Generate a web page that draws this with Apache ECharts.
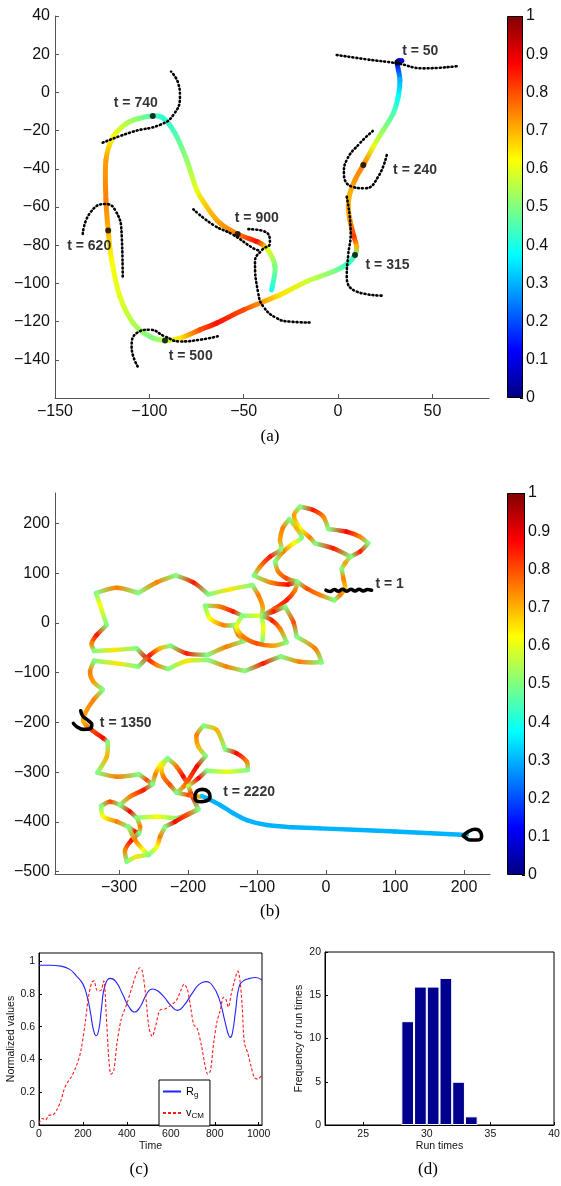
<!DOCTYPE html>
<html>
<head>
<meta charset="utf-8">
<script src="https://cdn.jsdelivr.net/npm/echarts@6/dist/echarts.min.js"></script>
<style>
  html, body { margin: 0; padding: 0; background: #fff; }
  #chart { width: 561px; height: 1186px; }
</style>
</head>
<body>
<div id="chart"></div>
<script>
// ---- panel (a): trajectory [x, y, colour value]
var trajA = [
  [33.8,16.6,0.08],[31.4,15.6,0.12],[32.8,6.5,0.3],[31.9,-2.2,0.38],[29.3,-10.9,0.45],[24.0,-19.7,0.52],
  [18.7,-28.4,0.6],[13.4,-38.0,0.75],[9.0,-45.8,0.73],[6.3,-52.8,0.7],[5.4,-59.8,0.7],[6.3,-66.8,0.72],
  [8.4,-75.5,0.82],[9.9,-80.7,0.7],[9.0,-85.1,0.45],[5.4,-89.4,0.42],[-2.5,-93.8,0.5],[-16.6,-99.0,0.58],
  [-30.8,-106.0,0.65],[-50.2,-113.9,0.8],[-64.3,-120.8,0.86],[-73.2,-124.3,0.8],[-83.8,-128.7,0.65],
  [-91.7,-129.9,0.55],[-99.7,-127.8,0.5],[-108.5,-120.8,0.55],[-115.6,-106.9,0.6],[-120.0,-87.7,0.62],
  [-121.8,-72.3,0.7],[-123.0,-56.3,0.75],[-123.0,-35.4,0.72],[-119.1,-23.2,0.62],[-112.0,-16.2,0.55],
  [-105.0,-13.5,0.5],[-98.2,-12.3,0.45],[-92.6,-13.5,0.42],[-86.4,-21.4,0.45],[-80.2,-35.4,0.52],
  [-74.9,-51.1,0.6],[-69.6,-59.8,0.68],[-62.6,-68.5,0.72],[-53.2,-74.2,0.75],[-43.1,-78.1,0.86],
  [-37.8,-81.6,0.6],[-33.4,-91.2,0.5],[-35.2,-103.4,0.4]
];
var dotsA = [[31.4,15.6],[13.4,-38.0],[9.0,-85.1],[-91.7,-129.9],[-121.8,-72.3],[-98.2,-12.3],[-53.2,-74.2]];
var labelsA = [[33.7,21.8,'t = 50'],[28.9,-40.6,'t = 240'],[14.3,-90.3,'t = 315'],[-90.0,-138.3,'t = 500'],
  [-143.8,-80.4,'t = 620'],[-119.1,-5.7,'t = 740'],[-55.0,-65.9,'t = 900']];
var dottedA = [
  [[-0.7,19.6],[15.2,17.3],[31.4,15.2],[45.2,12.6],[63.7,13.8]],
  [[18.4,-20.2],[11.6,-26.6],[4.6,-35.4],[3.1,-42.3],[7.2,-49.3],[14.3,-50.2],[21.3,-44.1],[26.1,-31.5]],
  [[4.6,-54.6],[6.7,-73.7],[5.4,-85.1],[4.6,-96.4],[9.9,-104.3],[23.1,-106.4]],
  [[-124.7,-26.3],[-108.5,-20.5],[-94.4,-17.0],[-87.3,-11.8],[-83.8,-2.2],[-84.7,4.8],[-88.5,10.9]],
  [[-135.3,-74.1],[-131.5,-63.2],[-123.5,-58.4],[-118.2,-61.5],[-114.7,-73.7],[-114.1,-97.3]],
  [[-106.2,-143.5],[-109.4,-133.1],[-106.7,-126.0],[-99.7,-124.3],[-91.7,-127.8],[-83.8,-130.4],[-73.2,-129.5],[-62.9,-127.5]],
  [[-76.7,-61.2],[-66.1,-69.4],[-55.5,-74.6],[-44.9,-81.6],[-41.0,-83.0]],
  [[-47.5,-71.6],[-37.8,-73.4],[-36.1,-79.0],[-40.3,-82.5],[-44.0,-88.7],[-42.3,-105.1],[-39.6,-112.1],[-32.5,-118.2],[-25.5,-120.0],[-14.9,-120.5]]
];

// ---- panel (b): trajectory pieces between the green turning points [x, y, colour value]
var arcsB = [
  [[-37.7,234.0,0.5],[-18.4,227.3,0.85],[-3.9,213.9,0.75],[3.3,189.1,0.5]],
  [[3.3,189.1,0.5],[29.9,183.7,0.87],[49.2,173.7,0.75],[61.3,160.2,0.5]],
  [[61.3,160.2,0.5],[49.2,143.5,0.85],[35.7,133.4,0.5],[27.5,120.0,0.72],[22.7,108.6,0.5]],
  [[22.7,108.6,0.5],[25.1,89.8,0.75],[27.5,69.7,0.68],[20.2,56.3,0.75],[12.0,45.6,0.5]],
  [[12.0,45.6,0.5],[-8.7,56.3,0.75],[-28.1,69.7,0.8],[-41.6,83.1,0.5]],
  [[-16.0,160.2,0.5],[10.6,150.2,0.85],[35.7,133.4,0.5]],
  [[-37.7,234.0,0.5],[-46.4,215.9,0.72],[-37.7,190.4,0.62],[-23.2,171.7,0.75],[-16.0,160.2,0.5]],
  [[-53.2,209.2,0.5],[-42.5,190.4,0.7],[-35.3,171.7,0.5],[-47.4,160.2,0.62],[-61.9,143.5,0.75],[-73.9,123.4,0.5]],
  [[-53.2,209.2,0.5],[-62.8,190.4,0.75],[-66.7,167.0,0.72],[-65.3,148.2,0.5],[-81.2,133.4,0.85],[-95.7,113.3,0.75],[-104.4,95.2,0.5]],
  [[-73.9,123.4,0.5],[-69.1,103.2,0.75],[-57.0,89.8,0.8],[-41.6,83.1,0.5]],
  [[-104.4,95.2,0.5],[-78.8,81.1,0.75],[-54.6,77.7,0.87],[-41.6,83.1,0.5]],
  [[-41.6,83.1,0.5],[-45.0,65.7,0.75],[-57.0,46.2,0.85],[-73.9,29.5,0.8],[-93.3,14.7,0.5]],
  [[-106.8,76.4,0.5],[-98.1,56.3,0.75],[-91.8,32.8,0.72],[-93.3,14.7,0.5]],
  [[-93.3,14.7,0.5],[-90.9,-10.8,0.62],[-92.3,-37.6,0.5]],
  [[-106.8,76.4,0.5],[-139.2,67.7,0.65],[-170.5,57.6,0.5]],
  [[-170.5,57.6,0.5],[-192.3,81.8,0.85],[-217.9,95.9,0.5]],
  [[-217.9,95.9,0.5],[-245.4,81.8,0.75],[-272.0,60.3,0.5]],
  [[-272.0,60.3,0.5],[-303.4,71.0,0.75],[-333.3,60.3,0.5]],
  [[-333.3,60.3,0.5],[-327.5,36.2,0.62],[-317.9,-4.1,0.5]],
  [[-317.9,-4.1,0.5],[-332.4,-24.2,0.85],[-339.6,-41.0,0.75],[-336.2,-56.4,0.5]],
  [[-336.2,-56.4,0.5],[-308.2,-54.4,0.65],[-274.4,-51.0,0.5]],
  [[-274.4,-51.0,0.5],[-259.9,-71.1,0.87],[-245.4,-84.6,0.75],[-228.5,-92.6,0.5]],
  [[-336.2,-75.8,0.5],[-303.4,-81.2,0.65],[-272.0,-87.9,0.5]],
  [[-272.0,-87.9,0.5],[-255.1,-64.4,0.85],[-240.6,-51.0,0.7],[-225.1,-45.7,0.5]],
  [[-225.1,-45.7,0.5],[-201.9,-61.1,0.85],[-172.0,-64.4,0.5]],
  [[-228.5,-92.6,0.5],[-201.9,-76.5,0.65],[-170.5,-74.5,0.5]],
  [[-172.0,-64.4,0.5],[-144.0,-47.7,0.75],[-117.4,-35.6,0.5]],
  [[-170.5,-74.5,0.5],[-144.0,-87.9,0.75],[-117.4,-96.6,0.5]],
  [[-117.4,-96.6,0.5],[-90.9,-81.2,0.85],[-65.3,-67.1,0.5]],
  [[-65.3,-67.1,0.5],[-37.7,-77.9,0.75],[-6.3,-79.2,0.5]],
  [[-6.3,-79.2,0.5],[-16.0,-51.0,0.75],[-42.5,-27.5,0.5]],
  [[-42.5,-27.5,0.5],[-47.4,2.6,0.8],[-59.5,32.8,0.5]],
  [[-59.5,32.8,0.5],[-76.4,22.8,0.85],[-93.3,14.7,0.5]],
  [[-175.4,34.8,0.5],[-153.6,32.8,0.75],[-134.3,22.8,0.85],[-121.3,14.7,0.5]],
  [[-121.3,14.7,0.5],[-93.3,14.7,0.62]],
  [[-175.4,34.8,0.5],[-168.1,9.3,0.62],[-148.8,-4.1,0.75],[-133.3,-4.1,0.5]],
  [[-133.3,-4.1,0.5],[-127.1,-24.2,0.75],[-117.4,-35.6,0.5]],
  [[-121.3,14.7,0.5],[-129.5,-7.4,0.62],[-119.8,-27.5,0.75],[-100.5,-41.0,0.8],[-76.4,-45.7,0.72],[-57.0,-39.0,0.5]],
  [[-57.0,-39.0,0.5],[-66.7,-10.8,0.75],[-78.8,6.0,0.85],[-93.3,14.7,0.5]],
  [[-336.2,-75.8,0.5],[-342.0,-98.0,0.75],[-337.2,-118.1,0.72],[-323.7,-133.5,0.5]],
  [[-323.6,-134.8,0.5],[-337.1,-154.9,0.75],[-349.2,-181.8,0.72],[-351.6,-198.5,0.7],[-339.5,-215.3,0.8],[-322.6,-232.1,0.87],[-316.3,-238.8,0.5]],
  [[-316.3,-238.8,0.5],[-317.8,-269.0,0.7],[-331.3,-301.2,0.5]],
  [[-331.3,-301.2,0.5],[-303.3,-309.2,0.75],[-270.9,-304.5,0.5]],
  [[-270.9,-304.5,0.5],[-259.8,-315.9,0.8],[-251.1,-324.0,0.5]],
  [[-251.1,-324.0,0.5],[-264.7,-336.0,0.85],[-283.9,-349.4,0.75],[-298.5,-366.2,0.5]],
  [[-229.4,-272.3,0.5],[-240.5,-285.7,0.62],[-247.7,-305.9,0.75],[-251.1,-324.0,0.5]],
  [[-229.4,-272.3,0.5],[-216.4,-289.1,0.75],[-206.7,-309.2,0.87],[-199.4,-328.0,0.55]],
  [[-229.4,-272.3,0.5],[-238.1,-290.4,0.65],[-235.7,-309.2,0.75],[-226.0,-326.0,0.8],[-216.4,-341.4,0.5]],
  [[-177.7,-206.6,0.5],[-187.4,-225.4,0.75],[-185.0,-248.8,0.7],[-174.3,-267.6,0.5]],
  [[-174.3,-267.6,0.5],[-187.4,-289.1,0.87],[-199.4,-315.9,0.8],[-206.7,-329.3,0.75],[-216.4,-341.4,0.5]],
  [[-177.7,-206.6,0.5],[-158.4,-215.3,0.7],[-146.3,-254.2,0.5]],
  [[-146.3,-254.2,0.5],[-129.4,-262.3,0.87],[-114.9,-279.0,0.75],[-113.5,-295.8,0.5]],
  [[-113.5,-295.8,0.5],[-143.9,-299.1,0.6],[-172.9,-297.1,0.5]],
  [[-172.9,-297.1,0.5],[-185.0,-312.6,0.87],[-199.4,-328.0,0.55]],
  [[-199.4,-328.0,0.55],[-194.6,-346.1,0.87],[-185.0,-374.9,0.5]],
  [[-216.4,-341.4,0.5],[-199.4,-346.1,0.8],[-182.5,-349.4,0.7]],
  [[-298.5,-366.2,0.5],[-313.0,-359.5,0.8],[-326.0,-368.2,0.5]],
  [[-185.0,-374.9,0.5],[-201.9,-386.3,0.8],[-216.4,-393.0,0.5]],
  [[-216.4,-393.0,0.5],[-245.3,-389.7,0.62],[-274.3,-391.7,0.5]],
  [[-298.5,-366.2,0.5],[-283.9,-379.6,0.87],[-274.3,-391.7,0.5]],
  [[-274.3,-391.7,0.5],[-269.5,-409.8,0.75],[-270.9,-423.2,0.5]],
  [[-326.0,-368.2,0.5],[-322.6,-389.7,0.62],[-303.3,-399.7,0.75],[-286.4,-409.8,0.5]],
  [[-286.4,-409.8,0.5],[-276.7,-419.9,0.85],[-270.9,-423.2,0.5]],
  [[-270.9,-423.2,0.5],[-281.6,-436.6,0.87],[-291.2,-456.8,0.75],[-288.8,-480.2,0.5]],
  [[-288.8,-480.2,0.5],[-274.3,-470.2,0.65],[-257.4,-466.8,0.5]],
  [[-257.4,-466.8,0.5],[-245.3,-450.1,0.62],[-240.5,-429.9,0.75],[-233.3,-409.8,0.5]],
  [[-233.3,-409.8,0.5],[-218.8,-399.7,0.87],[-201.9,-386.3,0.8],[-185.0,-374.9,0.5]],
  [[-286.4,-409.8,0.5],[-276.7,-436.6,0.75],[-264.7,-456.8,0.62],[-257.4,-466.8,0.5]],
  [[-180.0,-348.0,0.32],[-172.9,-352.8,0.3],[-153.6,-366.2,0.3],[-134.2,-383.0,0.3],[-114.9,-396.4,0.3],
   [-85.9,-406.5,0.3],[-47.3,-411.1,0.3],[-8.7,-413.2,0.3],[100.0,-419.5,0.3],[204.0,-426.5,0.3]]
];
var labelsB = [[71.0,77.9,'t = 1'],[-328.5,-201.8,'t = 1350'],[-149.7,-339.4,'t = 2220']];
var marksB = [
  [[0,66],[6,63.5],[12,67.5],[18,64],[24,68],[30,64],[36,68],[42,64.5],[48,68],[54,64.5],[60,67.5],[66,66]],
  [[-355.5,-176.4],[-352.6,-187.1],[-344.3,-196.5],[-339.5,-205.2],[-342.9,-213.3],[-351.6,-214.0],[-361.2,-208.6],[-366.1,-201.9]],
  [[-189.8,-346.1],[-186.4,-337.4],[-178.7,-334.7],[-170.5,-339.4],[-168.1,-349.4],[-172.9,-357.5],[-182.5,-359.5],[-189.8,-352.8],[-189.8,-346.1]],
  [[198.9,-427.9],[206.2,-419.8],[215.9,-415.1],[224.5,-421.9],[225.5,-429.9],[218.3,-436.6],[208.6,-436.6],[201.4,-431.2],[198.9,-427.9]]
];

// ---- panel (c)
var rgSeries = [[0,0.975],[50,0.975],[100,0.97],[140,0.95],[170,0.91],[200,0.86],[220,0.78],[235,0.68],[248,0.58],
  [260,0.545],[272,0.58],[285,0.72],[300,0.85],[325,0.895],[350,0.875],[380,0.8],[410,0.72],[435,0.69],[460,0.72],
  [490,0.8],[515,0.83],[540,0.82],[570,0.78],[600,0.73],[630,0.70],[660,0.73],[700,0.81],[730,0.86],[760,0.875],
  [790,0.85],[820,0.77],[845,0.64],[860,0.56],[870,0.535],[880,0.56],[895,0.7],[910,0.84],[930,0.88],[960,0.895],
  [985,0.9],[1015,0.885]];
var vcmSeries = [[0,0.01],[15,0.04],[30,0.03],[45,0.06],[60,0.06],[80,0.09],[100,0.15],[115,0.22],[130,0.26],
  [150,0.3],[170,0.36],[190,0.45],[210,0.62],[225,0.78],[240,0.87],[250,0.88],[265,0.82],[280,0.82],[295,0.88],
  [305,0.7],[318,0.4],[328,0.31],[340,0.33],[355,0.5],[375,0.65],[400,0.74],[425,0.85],[445,0.93],[458,0.96],
  [470,0.94],[485,0.8],[500,0.6],[515,0.54],[530,0.6],[550,0.7],[575,0.71],[600,0.73],[625,0.76],[645,0.82],
  [660,0.86],[675,0.83],[690,0.72],[705,0.61],[720,0.59],[740,0.48],[755,0.37],[768,0.31],[780,0.33],[795,0.5],
  [810,0.63],[825,0.7],[840,0.78],[850,0.77],[862,0.72],[875,0.8],[890,0.88],[905,0.94],[915,0.88],[925,0.72],
  [935,0.5],[950,0.44],[965,0.36],[980,0.29],[995,0.28],[1005,0.29],[1015,0.3]];

// ---- panel (d)
var runTimes = [28.5, 29.5, 30.5, 31.5, 32.5, 33.5];
var runCounts = [12, 16, 16, 17, 5, 1];

var ticksAx = [-150,-100,-50,0,50], ticksAy = [-140,-120,-100,-80,-60,-40,-20,0,20,40];
var ticksBx = [-300,-200,-100,0,100,200], ticksBy = [-500,-400,-300,-200,-100,0,100,200];
var ticksCx = [0,200,400,600,800,1000], ticksCy = [0,0.2,0.4,0.6,0.8,1];
var ticksDx = [25,30,35,40], ticksDy = [0,5,10,15,20];

function jet(v) {
  function c(x) { return Math.max(0, Math.min(1, x)); }
  var r = c(1.5 - Math.abs(4 * v - 3)), g = c(1.5 - Math.abs(4 * v - 2)), b = c(1.5 - Math.abs(4 * v - 1));
  return 'rgb(' + Math.round(r * 255) + ',' + Math.round(g * 255) + ',' + Math.round(b * 255) + ')';
}
function minus(v) { return String(v).replace('-', '\u2212'); }
function plain(v) { return String(v); }

// coloured trajectory: each point draws a curve piece to the next one of the same piece
function colourPath(gi, pieces, width) {
  var pts = [];
  pieces.forEach(function (piece, k) {
    piece.forEach(function (p) { pts.push([p[0], p[1], p[2], k]); });
  });
  return {
    type: 'custom', xAxisIndex: gi, yAxisIndex: gi, clip: true, silent: true, z: 2,
    data: pts, encode: { x: 0, y: 1 },
    renderItem: function (params, api) {
      var i = params.dataIndex, p = pts[i], q = pts[i + 1];
      if (!q || q[3] !== p[3]) return null;
      var o = (pts[i - 1] && pts[i - 1][3] === p[3]) ? pts[i - 1] : p;
      var r = (pts[i + 2] && pts[i + 2][3] === p[3]) ? pts[i + 2] : q;
      var P = api.coord([p[0], p[1]]), Q = api.coord([q[0], q[1]]);
      var O = api.coord([o[0], o[1]]), R = api.coord([r[0], r[1]]);
      return {
        type: 'bezierCurve',
        shape: {
          x1: P[0], y1: P[1], x2: Q[0], y2: Q[1],
          cpx1: P[0] + (Q[0] - O[0]) / 6, cpy1: P[1] + (Q[1] - O[1]) / 6,
          cpx2: Q[0] - (R[0] - P[0]) / 6, cpy2: Q[1] - (R[1] - P[1]) / 6
        },
        style: {
          fill: null, lineWidth: width, lineCap: 'round',
          stroke: new echarts.graphic.LinearGradient(P[0], P[1], Q[0], Q[1],
            [{ offset: 0, color: jet(p[2]) }, { offset: 1, color: jet(q[2]) }], true)
        }
      };
    }
  };
}

function mainAxis(gi, min, max, ticks, isY) {
  return {
    gridIndex: gi, type: 'value', min: min, max: max,
    axisLine: { show: true, onZero: false, lineStyle: { color: '#555' } },
    axisTick: { show: true, inside: true, length: 4, customValues: ticks, lineStyle: { color: '#555' } },
    axisLabel: { customValues: ticks, fontSize: 16, color: '#111', margin: isY ? 5 : 6, formatter: minus },
    splitLine: { show: false }
  };
}
function smallAxis(gi, min, max, ticks, name, gap) {
  return {
    gridIndex: gi, type: 'value', min: min, max: max,
    name: name, nameLocation: 'middle', nameGap: gap,
    nameTextStyle: { fontSize: 10.5, color: '#111' },
    axisLine: { show: true, onZero: false, lineStyle: { color: '#000' } },
    axisTick: { show: true, inside: true, length: 3, customValues: ticks, lineStyle: { color: '#000' } },
    axisLabel: { customValues: ticks, fontSize: 10.5, color: '#111', margin: 4, formatter: plain },
    splitLine: { show: false }
  };
}
function barAxisY(gi) {
  return {
    gridIndex: gi, type: 'value', min: 0, max: 1, interval: 0.1, position: 'right',
    axisLine: { show: false },
    axisTick: { show: true, inside: true, length: 3, lineStyle: { color: '#000' } },
    axisLabel: { fontSize: 16, color: '#111', margin: 3, formatter: function (v) { return String(+v.toFixed(1)); } },
    splitLine: { show: false }
  };
}
function barAxisX(gi) {
  return { gridIndex: gi, type: 'category', data: [''], axisLine: { show: false }, axisTick: { show: false }, axisLabel: { show: false } };
}
var jetStops = [0, 0.125, 0.375, 0.625, 0.875, 1].map(function (s) { return { offset: s, color: jet(s) }; });
function colourBar(gi) {
  return {
    type: 'bar', xAxisIndex: gi, yAxisIndex: gi, data: [1], barWidth: '100%', silent: true,
    itemStyle: { color: new echarts.graphic.LinearGradient(0, 1, 0, 0, jetStops), borderColor: '#000', borderWidth: 1 }
  };
}
function dotted(gi, pts) {
  return {
    type: 'line', xAxisIndex: gi, yAxisIndex: gi, data: pts, smooth: true, symbol: 'none', silent: true, z: 3,
    lineStyle: { color: '#000', width: 2.6, type: [1, 3], cap: 'round' }
  };
}
function blackMark(gi, pts) {
  return {
    type: 'line', xAxisIndex: gi, yAxisIndex: gi, data: pts, smooth: true, symbol: 'none', silent: true, z: 3,
    lineStyle: { color: '#000', width: 3.6, cap: 'round', join: 'round' }
  };
}
function tLabels(gi, list) {
  return {
    type: 'scatter', xAxisIndex: gi, yAxisIndex: gi, data: list, symbolSize: 1, silent: true, z: 5,
    itemStyle: { color: 'rgba(0,0,0,0)' },
    label: { show: true, position: 'right', distance: 0, fontSize: 14, fontWeight: 'bold', color: '#000',
      formatter: function (p) { return p.data[2]; } }
  };
}

var chart = echarts.init(document.getElementById('chart'), null, { renderer: 'canvas' });
var series = [
  colourPath(0, [trajA], 5),
  colourBar(1),
  colourPath(2, arcsB, 4.5),
  colourBar(3),
  {
    name: 'Rg', type: 'line', xAxisIndex: 4, yAxisIndex: 4, data: rgSeries, smooth: true, symbol: 'none',
    lineStyle: { color: '#2222ff', width: 1.1 }, itemStyle: { color: '#2222ff' }
  },
  {
    name: 'vCM', type: 'line', xAxisIndex: 4, yAxisIndex: 4, data: vcmSeries, smooth: 0.3, symbol: 'none',
    lineStyle: { color: '#ff1a1a', width: 1.1, type: [3, 2] }, itemStyle: { color: '#ff1a1a' }
  },
  {
    type: 'bar', xAxisIndex: 5, yAxisIndex: 5, barWidth: 12.7,
    data: runTimes.map(function (t, i) { return [t, runCounts[i]]; }),
    itemStyle: { color: '#00008f', borderColor: '#fff', borderWidth: 1 }
  },
  {
    type: 'scatter', xAxisIndex: 0, yAxisIndex: 0, data: dotsA, symbolSize: 6, z: 4, silent: true,
    itemStyle: { color: '#000' }
  },
  tLabels(0, labelsA),
  tLabels(2, labelsB)
];
dottedA.forEach(function (d) { series.push(dotted(0, d)); });
marksB.forEach(function (d) { series.push(blackMark(2, d)); });

chart.setOption({
  animation: false,
  backgroundColor: '#fff',
  textStyle: { fontFamily: '"Liberation Sans", Arial, sans-serif' },
  grid: [
    { left: 55, top: 16, width: 434, height: 382, containLabel: false, outerBoundsMode: 'none' },
    { left: 507, top: 16, width: 16, height: 382, containLabel: false, outerBoundsMode: 'none' },
    { left: 55, top: 493, width: 435, height: 381, containLabel: false, outerBoundsMode: 'none' },
    { left: 507, top: 493, width: 18, height: 382, containLabel: false, outerBoundsMode: 'none' },
    { left: 39, top: 953, width: 223, height: 172, containLabel: false, outerBoundsMode: 'none',
      show: true, borderColor: '#000', borderWidth: 1, backgroundColor: '#fff' },
    { left: 325, top: 952, width: 229, height: 173, containLabel: false, outerBoundsMode: 'none',
      show: true, borderColor: '#000', borderWidth: 1, backgroundColor: '#fff' }
  ],
  xAxis: [
    mainAxis(0, -150, 80, ticksAx, false),
    barAxisX(1),
    mainAxis(2, -392.8, 237.7, ticksBx, false),
    barAxisX(3),
    smallAxis(4, 0, 1015, ticksCx, 'Time', 14),
    smallAxis(5, 22, 40, ticksDx, 'Run times', 14)
  ],
  yAxis: [
    mainAxis(0, -160, 40, ticksAy, true),
    barAxisY(1),
    mainAxis(2, -505, 261.6, ticksBy, true),
    barAxisY(3),
    smallAxis(4, 0, 1.05, ticksCy, 'Normalized values', 22),
    smallAxis(5, 0, 20, ticksDy, 'Frequency of run times', 20)
  ],
  legend: {
    data: ['Rg', 'vCM'], orient: 'vertical', left: 159, top: 1080,
    backgroundColor: '#fff', borderColor: '#000', borderWidth: 1, borderRadius: 0,
    padding: [6, 6, 6, 3], itemGap: 9, itemWidth: 18, itemHeight: 10,
    itemStyle: { color: 'rgba(0,0,0,0)', borderWidth: 0 },
    formatter: function (n) { return n === 'Rg' ? '{m|R}{s|g}' : '{m|v}{s|CM}'; },
    textStyle: {
      color: '#000',
      rich: { m: { fontSize: 11, color: '#000' }, s: { fontSize: 8, color: '#000', padding: [6, 0, 0, 0] } }
    }
  },
  series: series,
  graphic: [
    { type: 'text', x: 270, y: 437, style: { text: '(a)', font: '17px "Liberation Serif"', fill: '#000', align: 'center', verticalAlign: 'middle' } },
    { type: 'text', x: 270, y: 912, style: { text: '(b)', font: '17px "Liberation Serif"', fill: '#000', align: 'center', verticalAlign: 'middle' } },
    { type: 'text', x: 139, y: 1170, style: { text: '(c)', font: '17px "Liberation Serif"', fill: '#000', align: 'center', verticalAlign: 'middle' } },
    { type: 'text', x: 428, y: 1170, style: { text: '(d)', font: '17px "Liberation Serif"', fill: '#000', align: 'center', verticalAlign: 'middle' } }
  ]
});
</script>
</body>
</html>
